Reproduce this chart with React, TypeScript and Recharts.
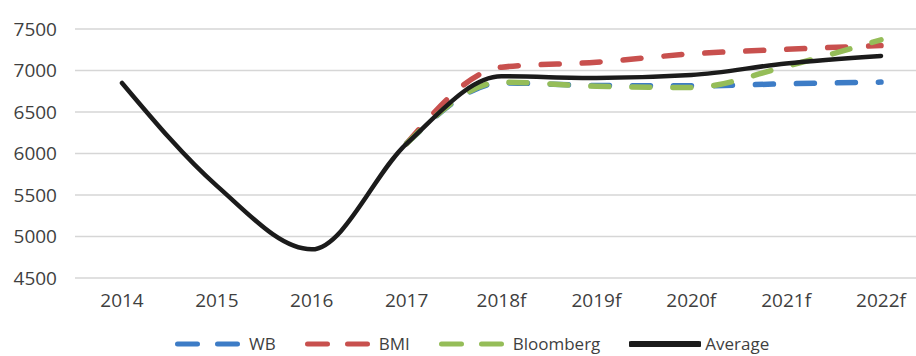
import React from 'react';
import { LineChart, Line, XAxis, YAxis, CartesianGrid, Legend } from 'recharts';

// Categories and forecasts (f = forecast years)
const years = ['2014', '2015', '2016', '2017', '2018f', '2019f', '2020f', '2021f', '2022f'];
const wbValues = [null, null, null, 6120, 6850, 6820, 6815, 6840, 6860];
const bmiValues = [null, null, null, 6120, 7040, 7100, 7200, 7255, 7300];
const bloombergValues = [null, null, null, 6120, 6860, 6810, 6795, 7050, 7370];
const averageValues = [6850, 5610, 4845, 6120, 6930, 6910, 6945, 7085, 7175];
const yTicks = [4500, 5000, 5500, 6000, 6500, 7000, 7500];

const seriesInfo = [
  { key: 'wb', name: 'WB', color: '#3d7cc6', dashed: true },
  { key: 'bmi', name: 'BMI', color: '#c8504e', dashed: true },
  { key: 'bloomberg', name: 'Bloomberg', color: '#95bd58', dashed: true },
  { key: 'average', name: 'Average', color: '#1b1b1b', dashed: false },
];

const data = years.map((year, i) => ({
  year,
  wb: wbValues[i],
  bmi: bmiValues[i],
  bloomberg: bloombergValues[i],
  average: averageValues[i],
}));

const FONT = "'Open Sans', 'Noto Sans', sans-serif";
const TEXT_COLOR = '#3f3f3f';

const renderLegend = () => (
  <div
    style={{
      height: 30,
      display: 'flex',
      alignItems: 'center',
      paddingLeft: 175,
      fontFamily: FONT,
      fontSize: 17,
      color: TEXT_COLOR,
      boxSizing: 'border-box',
      transform: 'translateY(-5px)',
    }}
  >
    {seriesInfo.map((s, i) => (
      <div
        key={s.key}
        style={{ display: 'flex', alignItems: 'center', marginLeft: i === 0 ? 0 : 29 }}
      >
        {s.dashed ? (
          <svg width={65} height={10} style={{ display: 'block' }}>
            <line
              x1={2.5}
              y1={5}
              x2={62.5}
              y2={5}
              stroke={s.color}
              strokeWidth={5}
              strokeLinecap="round"
              strokeDasharray="20 20"
            />
          </svg>
        ) : (
          <svg width={72} height={10} style={{ display: 'block' }}>
            <line x1={2} y1={5} x2={70} y2={5} stroke={s.color} strokeWidth={6} strokeLinecap="round" />
          </svg>
        )}
        <span style={{ marginLeft: s.dashed ? 9 : 4, lineHeight: '22px' }}>{s.name}</span>
      </div>
    ))}
  </div>
);

export default function App() {
  return (
    <div style={{ position: 'absolute', top: 0, left: 0, width: 916, height: 356, overflow: 'hidden', background: '#fff' }}>
      <LineChart width={940} height={364} data={data} margin={{ top: 29, right: 12, bottom: 0, left: 0 }}>
        <CartesianGrid horizontal vertical={false} stroke="#d6d6d6" strokeWidth={1.5} />
        <XAxis
          dataKey="year"
          axisLine={false}
          tickLine={false}
          tickSize={0}
          tickMargin={16}
          height={56}
          interval={0}
          padding={{ left: 47, right: 47 }}
          tick={{ fontSize: 19, fill: TEXT_COLOR, fontFamily: FONT }}
        />
        <YAxis
          domain={[4500, 7500]}
          ticks={yTicks}
          width={75}
          axisLine={false}
          tickLine={false}
          tickSize={0}
          tickMargin={18}
          tick={{ fontSize: 19, fill: TEXT_COLOR, fontFamily: FONT }}
        />
        <Legend verticalAlign="bottom" height={30} content={renderLegend} wrapperStyle={{ left: 0, width: 940 }} />
        {seriesInfo.map((s) => (
          <Line
            key={s.key}
            type="monotone"
            dataKey={s.key}
            name={s.name}
            stroke={s.color}
            strokeWidth={s.dashed ? 5.5 : 4.5}
            strokeDasharray={s.dashed ? '18 23' : undefined}
            strokeLinecap="round"
            strokeLinejoin="round"
            dot={false}
            activeDot={false}
            isAnimationActive={false}
          />
        ))}
      </LineChart>
    </div>
  );
}
